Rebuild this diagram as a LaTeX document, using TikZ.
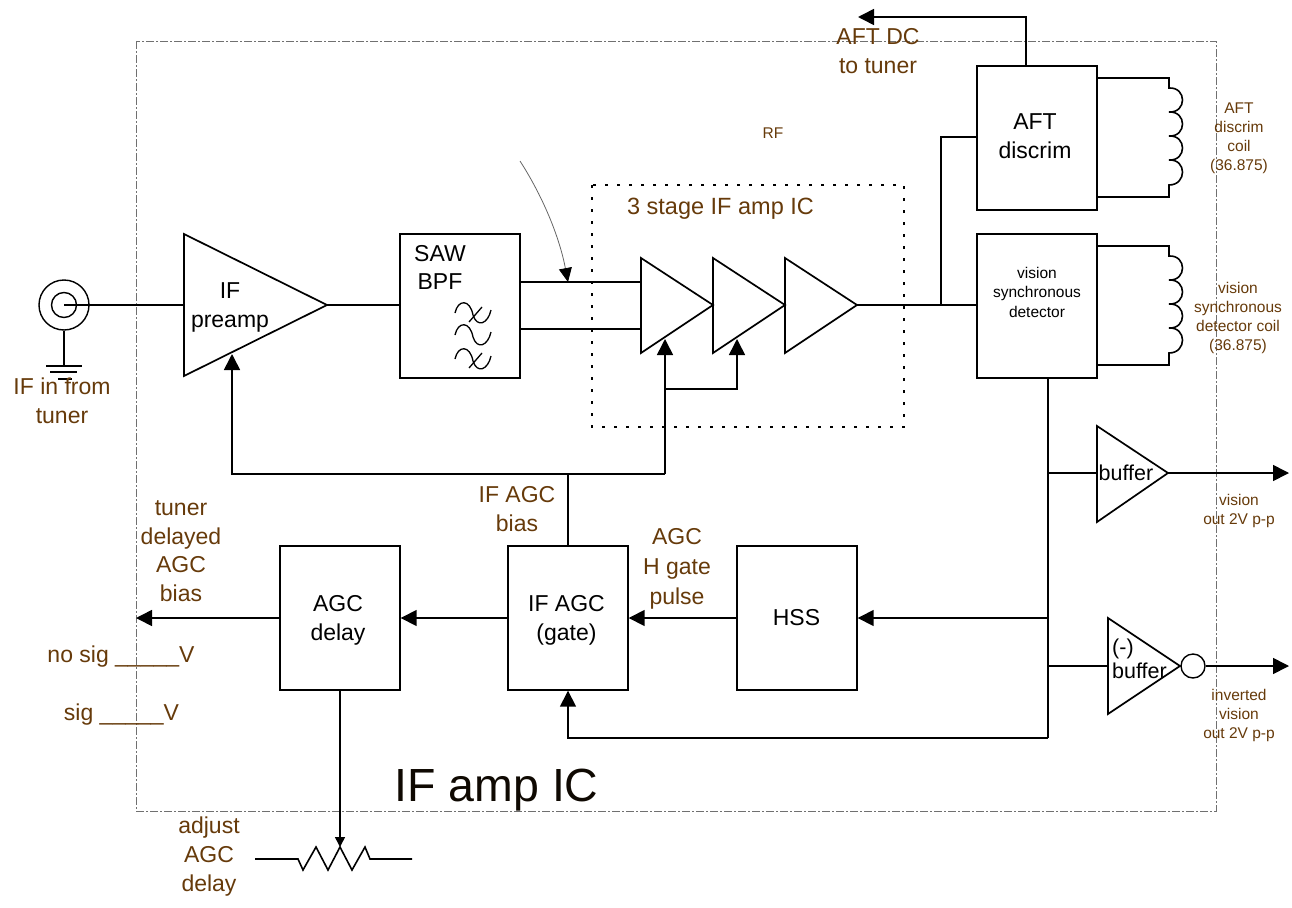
\documentclass[tikz,border=0pt]{standalone}
\usepackage{fontspec}
\setmainfont{Liberation Sans}
\usetikzlibrary{arrows.meta}
\definecolor{lbl}{HTML}{663A0A}
\definecolor{bord}{HTML}{707070}
\tikzset{
 x=1pt,y=-1pt,
 box/.style={draw,line width=1.7pt,inner sep=0pt,anchor=north west,minimum width=120pt,minimum height=144pt},
 wire/.style={line width=1.6pt},
 arr/.style={line width=1.6pt,-{Triangle[length=16pt,width=16pt]}},
 lab/.style={text=lbl,font=\fontsize{23}{28.5}\selectfont,align=center,inner sep=0pt},
 sml/.style={text=lbl,font=\fontsize{15.5}{19}\selectfont,align=center,inner sep=0pt},
 blk/.style={font=\fontsize{23}{29}\selectfont,align=center,inner sep=0pt},
 amp/.style={draw,line width=1.7pt,line join=miter},
 ring/.style={draw,circle,line width=1.4pt,inner sep=0pt},
}
\begin{document}
\begin{tikzpicture}
\useasboundingbox (0,0) rectangle (1292,907);
\draw[bord,dash pattern=on 8pt off 2pt on 2pt off 2pt,line width=0.9pt] (136,41) rectangle (1216,811);
\draw[line width=1.8pt,dash pattern=on 3pt off 9pt] (592,185) rectangle (904,427);
% boxes
\node[box] (aft) at (976,65) {};
\node[blk] (aftt) at (1035,136) {AFT\\discrim};
\node[box] (vsd) at (976,233) {};
\node[inner sep=0pt,align=center,font=\fontsize{15.5}{19.5}\selectfont] (vsdt) at (1037,292) {vision\\synchronous\\detector};
\node[box] (saw) at (399,233) {};
\node[blk,font=\fontsize{23}{28}\selectfont] (sawt) at (440,267) {SAW\\BPF};
\node[box] (del) at (279,545) {};
\node[blk] (delt) at (338,620) {AGC\\delay};
\node[box] (agc) at (507,545) {};
\node[blk] (agct) at (566.5,620) {IF AGC\\(gate)};
\node[box] (hss) at (736,545) {};
\node[blk] (hsst) at (796.5,618) {HSS};
% amplifiers
\coordinate (pretip) at (327,305);
\coordinate (preleft) at (184,305);
\draw[amp] (184,234) -- (pretip) -- (184,376) -- cycle;
\node[blk] (pre) at (230,307) {IF\\preamp};
\coordinate (s1in) at (641,282);
\coordinate (s1inb) at (641,329);
\coordinate (s1tip) at (713,305);
\coordinate (s2tip) at (785,305);
\coordinate (s3tip) at (857,305);
\draw[amp] (641,258) -- (s1tip) -- (641,353) -- cycle;
\draw[amp] (713,258) -- (s2tip) -- (713,353) -- cycle;
\draw[amp] (785,258) -- (s3tip) -- (785,353) -- cycle;
\coordinate (bufin) at (1097,473);
\coordinate (buftip) at (1168,473);
\draw[amp] (1097,426) -- (buftip) -- (1097,522) -- cycle;
\node[blk,font=\fontsize{21.5}{24}\selectfont] (buf) at (1126,473) {buffer};
\coordinate (nbin) at (1108,666);
\draw[amp] (1108,618) -- (1180,666) -- (1108,714) -- cycle;
\node[blk,align=left,font=\fontsize{21.5}{23.5}\selectfont] (nbuf) at (1139.5,659) {(-)\\buffer};
\node[ring,minimum size=24pt] (bub) at (1193,666) {};
% input connector
\node[ring,minimum size=50pt] (jo) at (64,305) {};
\node[ring,minimum size=25pt] (ji) at (64,305) {};
\coordinate (gnd) at (64,366);
\draw[wire] (jo.south) -- (gnd);
\draw[wire] (46,366) -- (82,366);
\draw[wire] (50,372) -- (77,372);
\draw[wire] (58,379) -- (72,379);
\draw[wire] (ji.center) -- (preleft);
\draw[wire] (pretip) -- (saw.west |- pretip);
% SAW outputs
\draw[wire] (saw.east |- s1in) -- (s1in);
\draw[wire] (saw.east |- s1inb) -- (s1inb);
% filter symbol
\foreach \dy/\cr in {0/1,22/0,46/1}{
 \draw[line width=1.3pt] (455,{313+\dy}) .. controls (458,{299+\dy}) and (470,{299+\dy}) .. (473,{315+\dy})
   .. controls (477,{328+\dy}) and (488,{324+\dy}) .. (491,{310+\dy});
 \ifnum\cr=1 \draw[line width=1.3pt] (482,{307+\dy}) -- (469,{322+\dy}); \fi
}
% curved arrow
\coordinate (ca) at (520,161);
\coordinate (cb) at (568,282);
\draw[line width=0.8pt,draw=black!60,-{Triangle[length=14pt,width=13pt,black]}] (ca) .. controls (545,200) and (560,240) .. (cb);
% amp out
\coordinate (j1) at (941,305);
\draw[wire] (s3tip) -- (vsd.west |- s3tip);
\draw[wire] (j1) |- (aft.west |- 0,137);
% AFT out
\coordinate (a1) at (1026,65);
\coordinate (a2) at (1026,17);
\coordinate (a4) at (858,17);
\draw[arr] (a1) -- (a2) -- (a4);
% coils
\foreach \ya in {78,246}{
 \draw[wire] (aft.east |- 0,\ya) -- (1169,\ya) -- (1169,{\ya+10})
  .. controls (1187,{\ya+9}) and (1187,{\ya+35}) .. (1169,{\ya+34})
  .. controls (1187,{\ya+33}) and (1187,{\ya+59}) .. (1169,{\ya+58})
  .. controls (1187,{\ya+57}) and (1187,{\ya+83}) .. (1169,{\ya+82})
  .. controls (1187,{\ya+81}) and (1187,{\ya+107}) .. (1169,{\ya+107})
  -- (1169,{\ya+119}) -- (aft.east |- 0,{\ya+119});
}
% bias
\coordinate (bt) at (568,474);
\coordinate (pl) at (232,474);
\coordinate (pr) at (665,474);
\coordinate (j2) at (665,389);
\coordinate (pretop) at (232,354);
\coordinate (s1b) at (665,339);
\coordinate (s2c) at (737,389);
\coordinate (s2b) at (737,339);
\draw[wire] (agc.north -| bt) -- (bt);
\draw[arr] (pr) -- (pl) -- (pretop);
\draw[arr] (pr) -- (s1b);
\draw[arr] (j2) -- (s2c) -- (s2b);
% vsd bus
\coordinate (vb) at (1048,377);
\coordinate (vc) at (1048,738);
\coordinate (vd) at (568,738);
\coordinate (vh) at (1048,618);
\draw[wire] (vb) -- (vc);
\draw[arr] (vc) -- (vd) -- (agc.south -| vd);
\draw[arr] (vh) -- (hss.east |- vh);
\draw[wire] (1048,473) -- (bufin);
\draw[wire] (1048,666) -- (nbin);
\coordinate (o1) at (1289,473);
\coordinate (o2) at (1289,666);
\draw[arr] (buftip) -- (o1);
\draw[arr] (bub.east) -- (o2);
\draw[arr] (hss.west |- vh) -- (agc.east |- vh);
\draw[arr] (agc.west |- vh) -- (del.east |- vh);
\coordinate (dl) at (136,618);
\draw[arr] (del.west |- vh) -- (dl);
% pot
\coordinate (pa) at (255,859);
\coordinate (pb) at (412,859);
\coordinate (wiper) at (340,847);
\draw[wire,line join=miter] (pa) -- (298,859) -- (303,870) -- (316,847) -- (328,870) -- (wiper) -- (352,870) -- (365,847) -- (370,859) -- (pb);
\draw[line width=1.5pt,-{Triangle[length=10pt,width=10pt]}] (del.south -| wiper) -- (wiper);
% labels
\node[lab] (l1) at (878,51) {AFT DC\\to tuner};
\node[sml] (l2) at (773,133) {RF};
\node[lab,font=\fontsize{23.5}{28}\selectfont] (l3) at (720.5,209) {3 stage IF amp IC};
\node[sml] (l4) at (1239,138) {AFT\\discrim\\coil\\(36.875)};
\node[sml] (l5) at (1238,318) {vision\\synchronous\\detector coil\\(36.875)};
\node[lab] (l6) at (62,401) {IF in from\\tuner};
\node[lab] (l7) at (181,551) {tuner\\delayed\\AGC\\bias};
\node[lab] (l8) at (517,509) {IF AGC\\bias};
\node[lab,font=\fontsize{23}{30}\selectfont] (l9) at (677,568.5) {AGC\\H gate\\pulse};
\node[sml] (l10) at (1239,511) {vision\\out 2V p-p};
\node[sml] (l11) at (1239,715) {inverted\\vision\\out 2V p-p};
\node[lab] (l12) at (121,657) {no sig \_\_\_\_\_V};
\node[lab] (l13) at (121.5,715) {sig \_\_\_\_\_V};
\node[lab,font=\fontsize{23}{29}\selectfont] (l14) at (209,857) {adjust\\AGC\\delay};
\node[inner sep=0pt,font=\fontsize{46.5}{50}\selectfont,text=black!85!lbl] (l15) at (496.5,790) {IF amp IC};
\end{tikzpicture}
\end{document}
